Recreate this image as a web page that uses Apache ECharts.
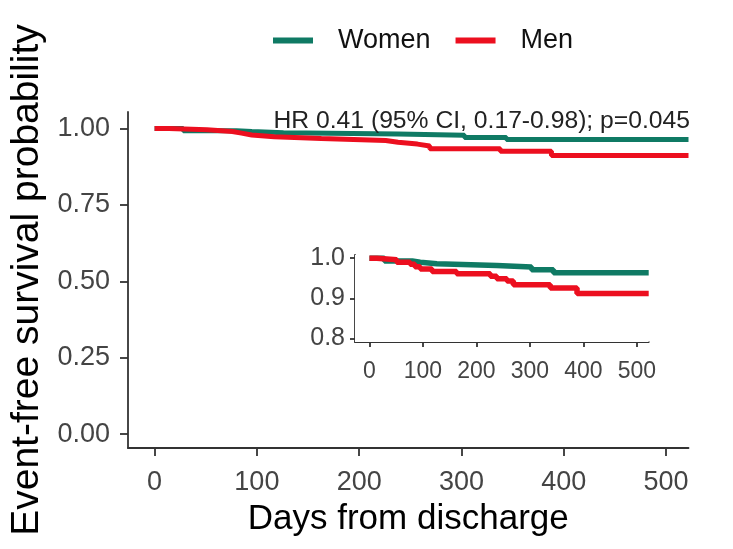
<!DOCTYPE html>
<html><head><meta charset="utf-8">
<script src="https://cdn.jsdelivr.net/npm/echarts@6/dist/echarts.min.js"></script>
<style>html,body{margin:0;padding:0;background:#fff}#c{width:733px;height:549px}</style>
</head><body><div id="c"></div>
<script>
// Kaplan-Meier step data (days, survival)
const womenDays = [0, 28, 80, 95, 126, 238, 303, 344, 522];
const womenSurv = [1.0, 0.993, 0.990, 0.986, 0.982, 0.978, 0.971, 0.964, 0.964];
const menDays = [0, 14, 51, 76, 85, 95, 117, 163, 226, 238, 257, 269, 338, 388, 522];
const menSurv = [1.0, 0.996, 0.990, 0.985, 0.979, 0.973, 0.967, 0.961, 0.955, 0.949, 0.943, 0.934, 0.926, 0.912, 0.912];
const mainXTicks = [0, 100, 200, 300, 400, 500];
const mainYTicks = [0, 0.25, 0.5, 0.75, 1.0];
const insetXTicks = [0, 100, 200, 300, 400, 500];
const insetYTicks = [0.8, 0.9, 1.0];
const groupNames = ['Women', 'Men'];
const annotation = 'HR 0.41 (95% CI, 0.17-0.98); p=0.045';

const GREEN = '#0f7a64', RED = '#ec0f1f';
const FONT = 'Liberation Sans, Arial, sans-serif';
const pairs = (xs, ys) => xs.map((x, i) => [x, ys[i]]);
const women = pairs(womenDays, womenSurv);
const men = pairs(menDays, menSurv);

const axisLine = { show: true, onZero: false, lineStyle: { color: '#333', width: 1.8 } };
const chart = echarts.init(document.getElementById('c'), null, { renderer: 'canvas' });
chart.setOption({
  backgroundColor: '#fff',
  animation: false,
  textStyle: { fontFamily: FONT },
  legend: {
    data: groupNames, left: 268, top: 22, icon: 'rect', itemWidth: 40, itemHeight: 6, itemGap: 25,
    textStyle: { fontSize: 27, color: '#111', fontFamily: FONT, padding: [0, 0, 0, 20] }
  },
  grid: [
    { left: 128, top: 112, width: 560.5, height: 336, outerBoundsMode: 'none', containLabel: false },
    { left: 355, top: 255, width: 293.7, height: 87, outerBoundsMode: 'none', containLabel: false,
      show: true, backgroundColor: '#fff', borderWidth: 0, z: 5 }
  ],
  xAxis: [
    { type: 'value', gridIndex: 0, min: -26, max: 522, axisLine, splitLine: { show: false },
      axisTick: { show: true, customValues: mainXTicks, length: 8, lineStyle: { color: '#333', width: 1.8 } },
      axisLabel: { customValues: mainXTicks, fontSize: 27, color: '#444', margin: 21, fontFamily: FONT },
      name: 'Days from discharge', nameLocation: 'middle', nameGap: 54,
      nameTextStyle: { fontSize: 35, color: '#000', fontFamily: FONT } },
    { type: 'value', gridIndex: 1, min: -27, max: 522, axisLine, splitLine: { show: false },
      axisTick: { show: true, customValues: insetXTicks, length: 5, lineStyle: { color: '#333', width: 1.8 } },
      axisLabel: { customValues: insetXTicks, fontSize: 23, color: '#444', margin: 18, fontFamily: FONT } }
  ],
  yAxis: [
    { type: 'value', gridIndex: 0, min: -0.045, max: 1.054, axisLine, splitLine: { show: false },
      axisTick: { show: true, customValues: mainYTicks, length: 8, lineStyle: { color: '#333', width: 1.8 } },
      axisLabel: { customValues: mainYTicks, fontSize: 27, color: '#444', margin: 18, fontFamily: FONT,
        formatter: v => v.toFixed(2) },
      name: 'Event-free survival probability', nameLocation: 'middle', nameGap: 77, nameRotate: 90,
      nameTextStyle: { fontSize: 39, color: '#000', fontFamily: FONT } },
    { type: 'value', gridIndex: 1, min: 0.791, max: 1.008, axisLine, splitLine: { show: false },
      axisTick: { show: true, customValues: insetYTicks, length: 5, lineStyle: { color: '#333', width: 1.8 } },
      axisLabel: { customValues: insetYTicks, fontSize: 25, color: '#444', margin: 10, fontFamily: FONT,
        formatter: v => v.toFixed(1) } }
  ],
  series: [
    { name: 'Women', type: 'line', step: 'end', xAxisIndex: 0, yAxisIndex: 0, data: women, showSymbol: false,
      color: GREEN, lineStyle: { color: GREEN, width: 5 }, z: 2 },
    { name: 'Men', type: 'line', step: 'end', xAxisIndex: 0, yAxisIndex: 0, data: men, showSymbol: false,
      color: RED, lineStyle: { color: RED, width: 5 }, z: 3 },
    { name: 'Women', type: 'line', step: 'end', xAxisIndex: 1, yAxisIndex: 1, data: women, showSymbol: false,
      color: GREEN, lineStyle: { color: GREEN, width: 5.5 }, z: 6 },
    { name: 'Men', type: 'line', step: 'end', xAxisIndex: 1, yAxisIndex: 1, data: men, showSymbol: false,
      color: RED, lineStyle: { color: RED, width: 5.5 }, z: 7 }
  ],
  graphic: [
    { type: 'text', x: 690, y: 121.5, z: 10,
      style: { text: annotation, fontSize: 24.7, fill: '#222', font: '24.7px ' + FONT, textAlign: 'right', textVerticalAlign: 'middle' } }
  ]
});
</script></body></html>
